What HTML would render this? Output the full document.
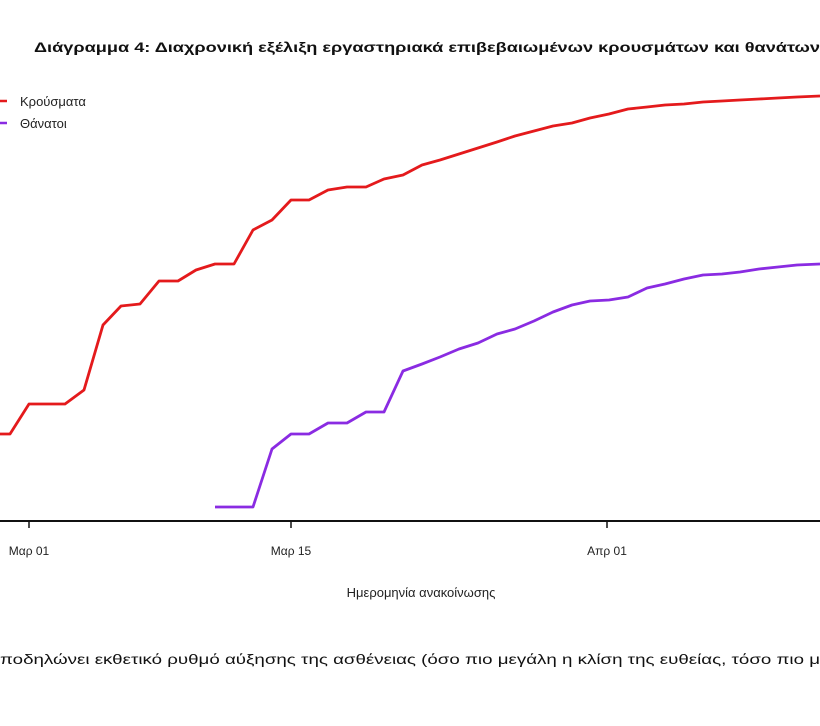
<!DOCTYPE html>
<html><head><meta charset="utf-8"><style>
html,body{margin:0;padding:0;background:#fff;width:820px;height:726px;overflow:hidden}
svg text{font-family:"Liberation Sans","DejaVu Sans",sans-serif}
</style></head><body>
<svg width="820" height="726" viewBox="0 0 820 726" xmlns="http://www.w3.org/2000/svg">
<text x="34" y="52" font-size="14" font-weight="bold" fill="#111" textLength="786" lengthAdjust="spacingAndGlyphs">Διάγραμμα 4: Διαχρονική εξέλιξη εργαστηριακά επιβεβαιωμένων κρουσμάτων και θανάτων</text>
<line x1="0" y1="101" x2="7" y2="101" stroke="#e41a1c" stroke-width="2.5"/>
<text x="20" y="106" font-size="13" fill="#222">Κρούσματα</text>
<line x1="0" y1="123" x2="7" y2="123" stroke="#8a2be2" stroke-width="2.5"/>
<text x="20" y="128" font-size="13" fill="#222">Θάνατοι</text>
<polyline fill="none" stroke="#e41a1c" stroke-width="2.8" stroke-linejoin="round" points="0,434 10,434 29,404 65,404 84,390 103,325 121,306 140,304 159,281 178,281 196,270 215,264 234,264 253,230 272,220 291,200 309,200 328,190 347,187 366,187 384,179 403,175 422,165 440,160 459,154 478,148 497,142 515,136 534,131 553,126 572,123 590,118 609,114 628,109 647,107 665,105 684,104 703,102 722,101 740,100 759,99 778,98 797,97 820,96"/>
<polyline fill="none" stroke="#8a2be2" stroke-width="2.8" stroke-linejoin="round" points="215,507 253,507 272,449 291,434 309,434 328,423 347,423 366,412 384,412 403,371 422,364 440,357 459,349 478,343 497,334 515,329 534,321 553,312 572,305 590,301 609,300 628,297 647,288 665,284 684,279 703,275 722,274 740,272 759,269 778,267 797,265 820,264"/>
<line x1="0" y1="521" x2="820" y2="521" stroke="#111" stroke-width="2"/>
<line x1="29" y1="521" x2="29" y2="528" stroke="#111" stroke-width="1.5"/>
<line x1="291" y1="521" x2="291" y2="528" stroke="#111" stroke-width="1.5"/>
<line x1="607" y1="521" x2="607" y2="528" stroke="#111" stroke-width="1.5"/>
<text x="29" y="555" font-size="12" fill="#222" text-anchor="middle">Μαρ 01</text>
<text x="291" y="555" font-size="12" fill="#222" text-anchor="middle">Μαρ 15</text>
<text x="607" y="555" font-size="12" fill="#222" text-anchor="middle">Απρ 01</text>
<text x="421" y="597" font-size="13" fill="#222" text-anchor="middle">Ημερομηνία ανακοίνωσης</text>
<text x="0" y="664" font-size="14" fill="#111" textLength="820" lengthAdjust="spacingAndGlyphs">ποδηλώνει εκθετικό ρυθμό αύξησης της ασθένειας (όσο πιο μεγάλη η κλίση της ευθείας, τόσο πιο μ</text>
</svg>
</body></html>
